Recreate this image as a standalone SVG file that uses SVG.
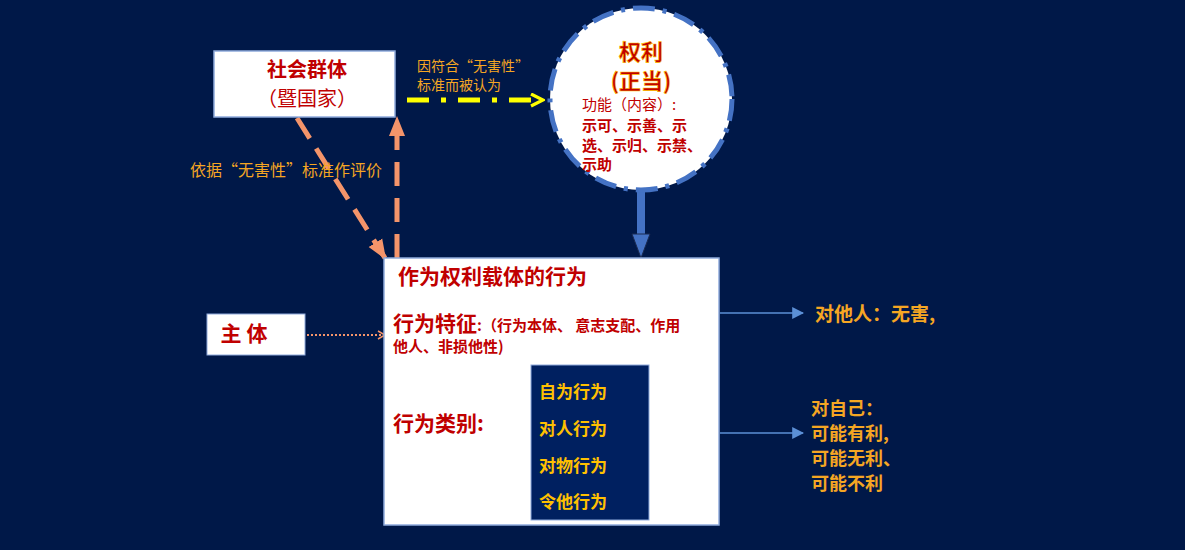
<svg xmlns="http://www.w3.org/2000/svg" width="1185" height="550" viewBox="0 0 1185 550">
<style>
text{font-family:"Noto Sans CJK SC","Liberation Sans",sans-serif}
.red{fill:#c00000;font-weight:bold}
.or{fill:#f5a623}
.gold{fill:#ffc000;font-weight:bold;font-size:17px}
</style>
<defs>
<marker id="ya" viewBox="0 0 10 10" refX="9" refY="5" markerWidth="3" markerHeight="3" orient="auto"><path d="M1 1L9 5L1 9" fill="none" stroke="#ffff00" stroke-width="2.2"/></marker>
<marker id="oa" viewBox="0 0 10 10" refX="9" refY="5" markerWidth="4" markerHeight="4" orient="auto"><path d="M0 1L10 5L0 9Z" fill="#f4946a"/></marker>
<marker id="ba" viewBox="0 0 10 10" refX="9" refY="5" markerWidth="12" markerHeight="12" orient="auto" markerUnits="userSpaceOnUse"><path d="M0 0L10 5L0 10Z" fill="#5b8fd6"/></marker>
</defs>
<rect width="1185" height="550" fill="#001848"/>
<g id="connectors">
<line x1="407" y1="100" x2="543" y2="100" stroke="#ffff00" stroke-width="5" stroke-dasharray="22,12,5,12" marker-end="url(#ya)"/>
<line x1="297" y1="118" x2="385" y2="258" stroke="#f4946a" stroke-width="5" stroke-dasharray="24,12" marker-end="url(#oa)"/>
<line x1="397" y1="258" x2="397" y2="118" stroke="#f4946a" stroke-width="5" stroke-dasharray="24,12" marker-end="url(#oa)"/>
<line x1="641" y1="189" x2="641" y2="240" stroke="#4472c4" stroke-width="8"/>
<path d="M632 234L650 234L641 258Z" fill="#4472c4" stroke="#1a2a50"/>
<line x1="307" y1="335" x2="383" y2="335" stroke="#f4946a" stroke-width="2" stroke-dasharray="2,2"/>
<path d="M378 331L385 335L378 339" fill="none" stroke="#f4946a" stroke-width="1.5"/>
<line x1="720" y1="313" x2="803" y2="313" stroke="#5b8fd6" stroke-width="1.5" marker-end="url(#ba)"/>
<line x1="720" y1="433" x2="803" y2="433" stroke="#5b8fd6" stroke-width="1.5" marker-end="url(#ba)"/>
</g>
<g id="label-yinfuhe"><text x="417" y="71" class="or" font-size="14">因符合“无害性”</text><text x="417" y="90" class="or" font-size="14">标准而被认为</text></g>
<g id="label-yiju"><text x="190" y="176" class="or" font-size="16">依据“无害性”标准作评价</text></g>
<g id="shehui"><rect x="214" y="51" width="181" height="66" fill="#fff" stroke="#8faadc" stroke-width="1.5"/>
<text x="307" y="77" text-anchor="middle" class="red" font-size="20">社会群体</text>
<text x="307" y="106" text-anchor="middle" fill="#c00000" font-size="20" font-family="Noto Serif CJK SC,Noto Sans CJK SC,serif">（暨国家）</text></g>
<g id="quanli"><circle cx="641" cy="99" r="91" fill="#fff" stroke="#4472c4" stroke-width="5" stroke-dasharray="22,8,4,8"/>
<text x="641" y="60" text-anchor="middle" class="red" font-size="22" stroke="#ffc000" stroke-width="0.6">权利</text>
<text x="641" y="89" text-anchor="middle" class="red" font-size="22" stroke="#ffc000" stroke-width="0.6">(正当)</text>
<text x="582" y="110" fill="#c00000" font-size="15">功能（内容）:</text>
<text x="582" y="131" class="red" font-size="15">示可、示善、示</text>
<text x="582" y="151" class="red" font-size="15">选、示归、示禁、</text>
<text x="582" y="170" class="red" font-size="15">示助</text></g>
<g id="zhuti"><rect x="207" y="314" width="98" height="41" fill="#fff" stroke="#8faadc"/>
<text x="244" y="341" text-anchor="middle" class="red" font-size="21">主 体</text></g>
<g id="xingwei"><rect x="384" y="258" width="335" height="267" fill="#fff" stroke="#8faadc" stroke-width="1.5"/>
<text x="398" y="284" class="red" font-size="21">作为权利载体的行为</text>
<text x="393" y="331" class="red" font-size="21">行为特征</text><text x="477" y="331" class="red" font-size="15">:（行为本体、 意志支配、作用</text>
<text x="393" y="352" class="red" font-size="15">他人、非损他性)</text>
<text x="393" y="431" class="red" font-size="21">行为类别:</text>
<rect x="531" y="365" width="118" height="155" fill="#002060" stroke="#8faadc"/>
<text x="539" y="398" class="gold">自为行为</text>
<text x="539" y="435" class="gold">对人行为</text>
<text x="539" y="472" class="gold">对物行为</text>
<text x="539" y="508" class="gold">令他行为</text></g>
<g id="tarens"><text x="815" y="321" fill="#f5a623" font-weight="bold" font-size="19">对他人：无害,</text></g>
<g id="ziji" fill="#f5a623" font-weight="bold" font-size="18"><text x="811" y="415">对自己：</text><text x="811" y="440">可能有利,</text><text x="811" y="465">可能无利、</text><text x="811" y="490">可能不利</text></g>
</svg>
